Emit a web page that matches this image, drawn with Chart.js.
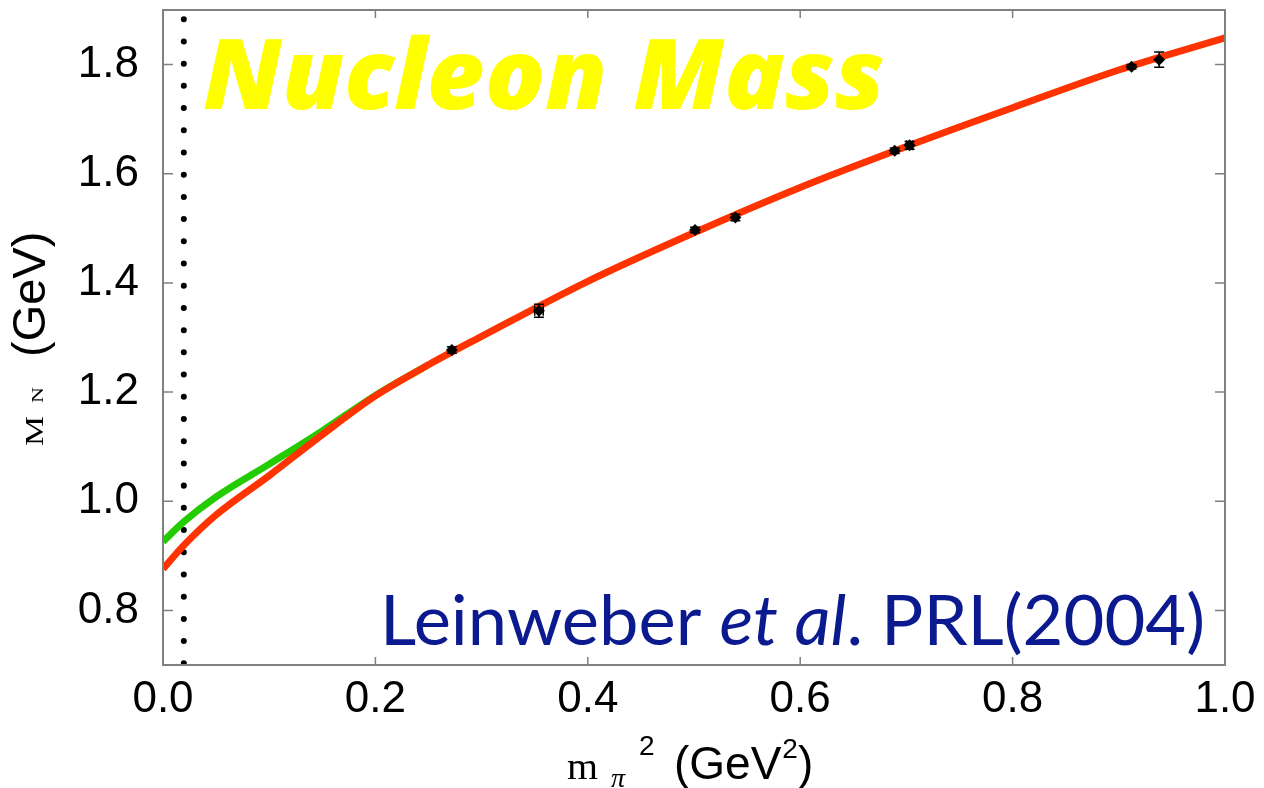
<!DOCTYPE html>
<html>
<head>
<meta charset="utf-8">
<script src="https://cdn.jsdelivr.net/npm/chart.js@4.4.0/dist/chart.umd.min.js"></script>
<style>
html,body{margin:0;padding:0;background:#fff;}
#wrap{width:1264px;height:788px;}
</style>
</head>
<body>
<div id="wrap"><canvas id="myChart" width="1264" height="788"></canvas></div>
<script>
// axis ticks
var xTicks = [0.0, 0.2, 0.4, 0.6, 0.8, 1.0];
var yTicks = [0.8, 1.0, 1.2, 1.4, 1.6, 1.8];

// lattice points
var latX    = [0.272, 0.354, 0.501, 0.539, 0.689, 0.703, 0.912, 0.938];
var latY    = [1.277, 1.349, 1.497, 1.520, 1.642, 1.652, 1.796, 1.809];
var latYErr = [0.006, 0.012, 0.005, 0.006, 0.005, 0.007, 0.004, 0.014];
var latXErr = [0.000, 0.004, 0.000, 0.000, 0.000, 0.003, 0.000, 0.000];

// fit curves
var fitX   = [0, 0.02, 0.05, 0.1, 0.15, 0.2, 0.25, 0.3, 0.4, 0.5, 0.6, 0.7, 0.8, 0.9, 1.0];
var redY   = [0.876, 0.920, 0.975, 1.047, 1.122, 1.193, 1.250, 1.302, 1.403, 1.492, 1.575, 1.650, 1.721, 1.790, 1.849];
var greenX = [0, 0.02, 0.05, 0.1, 0.15, 0.2, 0.25];
var greenY = [0.926, 0.963, 1.008, 1.068, 1.129, 1.194, 1.250];

// physical point
var physX = 0.0196;
var physRange = [1.9, 0.7];

function pts(xs, ys) {
    var out = [];
    for (var i = 0; i < xs.length; i++) out.push({x: xs[i], y: ys[i]});
    return out;
}

// draw text squeezed/stretched horizontally
function wideText(ctx, txt, x, y, font, sx) {
    ctx.save();
    ctx.font = font;
    ctx.translate(x, y);
    ctx.scale(sx, 1);
    ctx.fillText(txt, 0, 0);
    var w = ctx.measureText(txt).width * sx;
    ctx.restore();
    return w;
}

var decor = {
    id: 'decor',
    afterDatasetsDraw: function(chart) {
        var ctx = chart.ctx, sx = chart.scales.x, sy = chart.scales.y;
        ctx.save();
        ctx.strokeStyle = '#000';
        ctx.lineWidth = 1.5;
        for (var i = 0; i < latX.length; i++) {
            var px = sx.getPixelForValue(latX[i]);
            var py = sy.getPixelForValue(latY[i]);
            var y1 = sy.getPixelForValue(latY[i] + latYErr[i]);
            var y2 = sy.getPixelForValue(latY[i] - latYErr[i]);
            ctx.beginPath();
            ctx.moveTo(px, y1); ctx.lineTo(px, y2);
            ctx.moveTo(px - 5, y1); ctx.lineTo(px + 5, y1);
            ctx.moveTo(px - 5, y2); ctx.lineTo(px + 5, y2);
            if (latXErr[i] > 0) {
                var x1 = sx.getPixelForValue(latX[i] - latXErr[i]);
                var x2 = sx.getPixelForValue(latX[i] + latXErr[i]);
                ctx.moveTo(x1, py); ctx.lineTo(x2, py);
                ctx.moveTo(x1, py - 5); ctx.lineTo(x1, py + 5);
                ctx.moveTo(x2, py - 5); ctx.lineTo(x2, py + 5);
            }
            ctx.stroke();
        }
        ctx.restore();
    },
    afterDraw: function(chart) {
        var ctx = chart.ctx, a = chart.chartArea, sx = chart.scales.x, sy = chart.scales.y;
        ctx.save();
        // frame
        ctx.strokeStyle = '#808080';
        ctx.lineWidth = 2;
        ctx.strokeRect(a.left, a.top, a.right - a.left, a.bottom - a.top);
        // inward ticks
        ctx.lineWidth = 1.5;
        ctx.beginPath();
        xTicks.forEach(function(v) {
            var p = sx.getPixelForValue(v);
            ctx.moveTo(p, a.bottom); ctx.lineTo(p, a.bottom - 8);
            ctx.moveTo(p, a.top); ctx.lineTo(p, a.top + 8);
        });
        yTicks.forEach(function(v) {
            var p = sy.getPixelForValue(v);
            ctx.moveTo(a.left, p); ctx.lineTo(a.left + 10, p);
            ctx.moveTo(a.right, p); ctx.lineTo(a.right - 10, p);
        });
        ctx.stroke();

        // title
        ctx.fillStyle = '#ffff00';
        ctx.font = 'italic 800 98px "Open Sans"';
        var t = 'Nucleon Mass';
        var w = ctx.measureText(t).width;
        wideText(ctx, t, 203, 109, ctx.font, 682 / w);

        // citation
        ctx.fillStyle = '#0b1a8e';
        var parts = [['Leinweber ', '400 70px Lato'], ['et al', 'italic 400 70px Lato'], ['. PRL(2004)', '400 70px Lato']];
        var tot = 0;
        parts.forEach(function(p) { ctx.font = p[1]; tot += ctx.measureText(p[0]).width; });
        var cx = 380;
        parts.forEach(function(p) { cx += wideText(ctx, p[0], cx, 645, p[1], 825 / tot); });

        // x axis title
        ctx.fillStyle = '#000';
        wideText(ctx, 'm', 567, 779, '38px "Liberation Serif"', 1.05);
        wideText(ctx, '\u03c0', 611, 787, 'italic 28px "Liberation Serif"', 1);
        wideText(ctx, '2', 639, 755, '28px "Liberation Sans"', 1);
        var gx = 674;
        gx += wideText(ctx, '(GeV', gx, 779, '46px "Liberation Sans"', 1);
        gx += wideText(ctx, '2', gx + 1, 758, '28px "Liberation Sans"', 1) + 1;
        wideText(ctx, ')', gx, 779, '46px "Liberation Sans"', 1);

        // y axis title
        ctx.save();
        ctx.translate(43, 446);
        ctx.rotate(-Math.PI / 2);
        wideText(ctx, 'M', 0, 0, '26px "Liberation Serif"', 1.3);
        wideText(ctx, 'N', 43, 0, '17px "Liberation Serif"', 1.3);
        wideText(ctx, '(GeV)', 89, 2, '47px "Liberation Sans"', 1);
        ctx.restore();

        ctx.restore();
    }
};

var tickFont = {family: '"Liberation Sans", Arial, sans-serif', size: 44};

var myChart = new Chart(document.getElementById('myChart').getContext('2d'), {
    type: 'scatter',
    data: {
        datasets: [
            {
                label: 'Lattice',
                data: pts(latX, latY),
                pointStyle: 'rectRot',
                pointRadius: 6,
                backgroundColor: '#000',
                borderColor: '#000',
                borderWidth: 0
            },
            {
                label: 'Fit',
                data: pts(fitX, redY),
                showLine: true,
                pointRadius: 0,
                borderColor: '#ff3300',
                borderWidth: 7,
                cubicInterpolationMode: 'monotone'
            },
            {
                label: 'Fit 2',
                data: pts(greenX, greenY),
                showLine: true,
                pointRadius: 0,
                borderColor: '#22cc00',
                borderWidth: 7,
                cubicInterpolationMode: 'monotone'
            },
            {
                label: 'Physical',
                data: [{x: physX, y: physRange[0]}, {x: physX, y: physRange[1]}],
                showLine: true,
                pointRadius: 0,
                borderColor: '#000',
                borderWidth: 6,
                borderCapStyle: 'round',
                borderDash: [0.01, 22.2],
                borderDashOffset: 13
            }
        ]
    },
    options: {
        responsive: false,
        animation: false,
        devicePixelRatio: 1,
        layout: {autoPadding: false, padding: {top: 10, right: 39, left: 0, bottom: 0}},
        plugins: {legend: {display: false}, tooltip: {enabled: false}},
        scales: {
            x: {
                type: 'linear', min: 0, max: 1,
                grid: {display: false},
                border: {display: false},
                afterBuildTicks: function(s) { s.ticks = xTicks.map(function(v) { return {value: v}; }); },
                afterFit: function(s) { s.height = 123; s.paddingLeft = 0; s.paddingRight = 0; },
                ticks: {font: tickFont, color: '#000', padding: 0, maxRotation: 0,
                    callback: function(v) { return v.toFixed(1); }}
            },
            y: {
                type: 'linear', min: 0.7, max: 1.9,
                grid: {display: false},
                border: {display: false},
                afterBuildTicks: function(s) { s.ticks = yTicks.map(function(v) { return {value: v}; }); },
                afterFit: function(s) { s.width = 163; s.paddingTop = 0; s.paddingBottom = 0; },
                ticks: {font: tickFont, color: '#000', padding: 16,
                    callback: function(v) { return v.toFixed(1); }}
            }
        }
    },
    plugins: [decor]
});
</script>
</body>
</html>
